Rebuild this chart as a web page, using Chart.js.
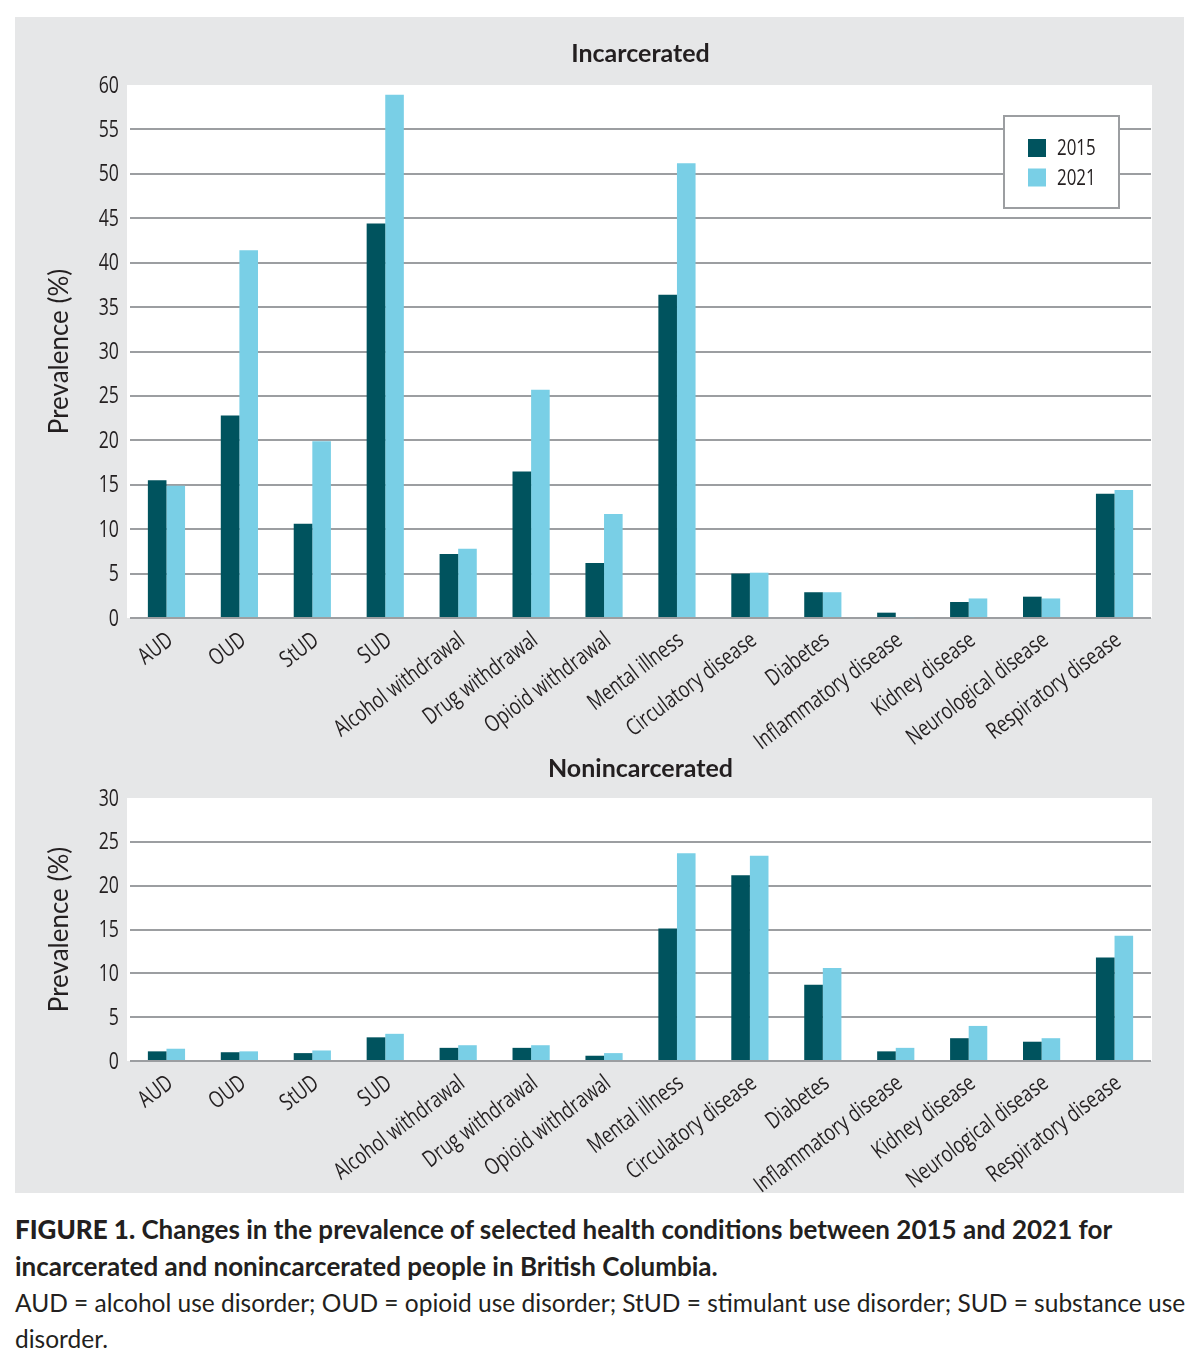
<!DOCTYPE html>
<html>
<head>
<meta charset="utf-8">
<script src="https://cdn.jsdelivr.net/npm/chart.js@4/dist/chart.umd.min.js"></script>
<style>
  body { margin: 0; background: #fff; width: 1200px; height: 1359px; position: relative; overflow: hidden; }
  .panel { position: absolute; left: 15px; top: 17px; width: 1169px; height: 1176px; background: #e6e7e8; }
  .panel canvas { position: absolute; left: 0; }
  #incarcerated { top: 0; }
  #nonincarcerated { top: 735px; }
  .caption { position: absolute; left: 15px; top: 1211px; font-family: Lato, sans-serif; font-size: 24.5px;
             line-height: 36px; color: #231f20; white-space: nowrap; }
  .caption b { font-weight: 700; font-size: 26px; }
  .caption .fig { font-weight: 900; }
</style>
</head>
<body>
<div class="panel">
  <canvas id="incarcerated" width="1169" height="735"></canvas>
  <canvas id="nonincarcerated" width="1169" height="441"></canvas>
</div>
<div class="caption">
  <b><span class="fig">FIGURE 1.</span> Changes in the prevalence of selected health conditions between 2015 and 2021 for<br>
  incarcerated and nonincarcerated people in British Columbia.</b><br>
  AUD = alcohol use disorder; OUD = opioid use disorder; StUD = stimulant use disorder; SUD = substance use<br>
  disorder.
</div>
<script>
const categories = ['AUD', 'OUD', 'StUD', 'SUD', 'Alcohol withdrawal', 'Drug withdrawal', 'Opioid withdrawal',
  'Mental illness', 'Circulatory disease', 'Diabetes', 'Inflammatory disease', 'Kidney disease',
  'Neurological disease', 'Respiratory disease'];
const years = ['2015', '2021'];

const incarcerated2015 = [15.5, 22.8, 10.6, 44.4, 7.2, 16.5, 6.2, 36.4, 5.0, 2.9, 0.6, 1.8, 2.4, 14.0];
const incarcerated2021 = [14.9, 41.4, 19.9, 58.9, 7.8, 25.7, 11.7, 51.2, 5.1, 2.9, 0.1, 2.2, 2.2, 14.4];

const nonincarcerated2015 = [1.1, 1.0, 0.9, 2.7, 1.5, 1.5, 0.6, 15.1, 21.2, 8.7, 1.1, 2.6, 2.2, 11.8];
const nonincarcerated2021 = [1.4, 1.1, 1.2, 3.1, 1.8, 1.8, 0.9, 23.7, 23.4, 10.6, 1.5, 4.0, 2.6, 14.3];

const colors = ['#00535e', '#79cfe6'];
const gridColor = '#9c9ea1';
const textColor = '#231f20';

// no condensed face is installed, so tick text gets squeezed by hand
const tickFont = '23px "Open Sans", sans-serif';
const squeeze = 0.77;
const labelAngle = 37 * Math.PI / 180;

// white plot area on the grey panel
const plotBackground = {
  id: 'plotBackground',
  beforeDraw(chart) {
    const { ctx, chartArea: { left, top, right, bottom } } = chart;
    ctx.save();
    ctx.fillStyle = '#fff';
    ctx.fillRect(left - 3, top, right - left + 4, bottom - top);
    ctx.restore();
  },
};

const condensedTicks = {
  id: 'condensedTicks',
  afterDraw(chart) {
    const { ctx, scales: { x, y } } = chart;
    ctx.save();
    ctx.fillStyle = textColor;
    ctx.font = tickFont;

    ctx.textAlign = 'right';
    ctx.textBaseline = 'middle';
    y.ticks.forEach((tick, i) => {
      ctx.save();
      ctx.translate(y.right - 11, y.getPixelForTick(i) + 1);
      ctx.scale(squeeze, 1);
      ctx.fillText(String(tick.value), 0, 0);
      ctx.restore();
    });

    ctx.textBaseline = 'alphabetic';
    x.ticks.forEach((tick, i) => {
      ctx.save();
      ctx.translate(x.getPixelForTick(i) + 8, x.top + 25);
      ctx.rotate(-labelAngle);
      ctx.scale(squeeze, 1);
      ctx.fillText(chart.data.labels[i], 0, 0);
      ctx.restore();
    });
    ctx.restore();
  },
};

// boxed legend sitting inside the plot, top right
const boxLegend = {
  id: 'boxLegend',
  afterDraw(chart, args, opts) {
    if (!opts.show) return;
    const { ctx, chartArea } = chart;
    const x = chartArea.right - 147;
    const y = chartArea.top + 31;
    ctx.save();
    ctx.fillStyle = '#fff';
    ctx.fillRect(x, y, 115, 92);
    ctx.strokeStyle = gridColor;
    ctx.lineWidth = 2;
    ctx.strokeRect(x, y, 115, 92);
    ctx.font = '22px "Open Sans", sans-serif';
    ctx.textBaseline = 'middle';
    chart.data.datasets.forEach((ds, i) => {
      ctx.fillStyle = ds.backgroundColor;
      ctx.fillRect(x + 24, y + 23 + i * 29.5, 18, 18);
      ctx.fillStyle = textColor;
      ctx.save();
      ctx.translate(x + 53, y + 33 + i * 29.5);
      ctx.scale(squeeze, 1);
      ctx.fillText(ds.label, 0, 0);
      ctx.restore();
    });
    ctx.restore();
  },
};

const makeChart = (element, title, first, second, max, settings) => {
  return new Chart(element.getContext('2d'), {
    type: 'bar',
    data: {
      labels: categories,
      datasets: [
        { label: years[0], data: first, backgroundColor: colors[0] },
        { label: years[1], data: second, backgroundColor: colors[1] },
      ],
    },
    options: {
      responsive: false,
      animation: false,
      layout: { padding: { left: 0, right: 33, top: 0, bottom: 0 } },
      datasets: { bar: { categoryPercentage: 0.51, barPercentage: 1.0 } },
      plugins: {
        legend: { display: false },
        tooltip: { enabled: false },
        title: {
          display: true,
          text: title,
          fullSize: false,
          color: textColor,
          font: { family: 'Lato, sans-serif', size: 25, weight: 'bold' },
          padding: settings.titlePadding,
        },
        boxLegend: { show: settings.legend },
      },
      scales: {
        x: {
          grid: { display: false },
          border: { display: false },
          ticks: { display: false, autoSkip: false },
          afterFit: (scale) => { scale.height = settings.xHeight; },
        },
        y: {
          min: 0,
          max: max,
          ticks: { display: false, stepSize: 5 },
          grid: {
            drawTicks: false,
            lineWidth: 2,
            color: (ctx) => (ctx.tick && ctx.tick.value === max ? 'rgba(0,0,0,0)' : gridColor),
          },
          border: { display: false },
          title: {
            display: true,
            text: 'Prevalence (%)',
            color: textColor,
            font: { family: 'Lato, sans-serif', size: 26 },
            padding: { top: 29.4, bottom: 0 },
          },
          afterFit: (scale) => { scale.width = 115; },
        },
      },
    },
    plugins: [plotBackground, condensedTicks, boxLegend],
  });
};

makeChart(document.getElementById('incarcerated'), 'Incarcerated', incarcerated2015, incarcerated2021, 60,
  { legend: true, titlePadding: { top: 22, bottom: 16 }, xHeight: 134 });
makeChart(document.getElementById('nonincarcerated'), 'Nonincarcerated', nonincarcerated2015, nonincarcerated2021, 30,
  { legend: false, titlePadding: { top: 2, bottom: 14 }, xHeight: 132 });
</script>
</body>
</html>
